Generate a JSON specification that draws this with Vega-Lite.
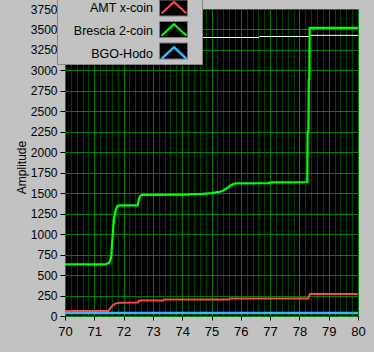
{
  "$schema": "https://vega.github.io/schema/vega-lite/v6.json",
  "width": 293,
  "height": 307,
  "autosize": {"type": "none"},
  "padding": {"left": 65, "top": 9, "right": 16, "bottom": 36},
  "background": "#c2c2c2",
  "config": {
    "view": {"fill": "#000000", "stroke": null},
    "font": "Liberation Sans"
  },
  "datasets": {
    "curves": [
      {"series": "AMT x-coin", "time": 70, "amplitude": 62},
      {"series": "AMT x-coin", "time": 71.48, "amplitude": 62},
      {"series": "AMT x-coin", "time": 71.55, "amplitude": 95},
      {"series": "AMT x-coin", "time": 71.62, "amplitude": 125},
      {"series": "AMT x-coin", "time": 71.7, "amplitude": 148},
      {"series": "AMT x-coin", "time": 71.85, "amplitude": 163},
      {"series": "AMT x-coin", "time": 72.5, "amplitude": 165},
      {"series": "AMT x-coin", "time": 72.53, "amplitude": 188},
      {"series": "AMT x-coin", "time": 73.35, "amplitude": 190},
      {"series": "AMT x-coin", "time": 73.38, "amplitude": 202},
      {"series": "AMT x-coin", "time": 75.6, "amplitude": 203},
      {"series": "AMT x-coin", "time": 75.62, "amplitude": 213},
      {"series": "AMT x-coin", "time": 78.3, "amplitude": 215},
      {"series": "AMT x-coin", "time": 78.36, "amplitude": 268},
      {"series": "AMT x-coin", "time": 80, "amplitude": 270},
      {"series": "Brescia 2-coin", "time": 70, "amplitude": 630},
      {"series": "Brescia 2-coin", "time": 71.39, "amplitude": 630},
      {"series": "Brescia 2-coin", "time": 71.5, "amplitude": 650},
      {"series": "Brescia 2-coin", "time": 71.55, "amplitude": 680},
      {"series": "Brescia 2-coin", "time": 71.58, "amplitude": 730},
      {"series": "Brescia 2-coin", "time": 71.61, "amplitude": 900},
      {"series": "Brescia 2-coin", "time": 71.64, "amplitude": 1050},
      {"series": "Brescia 2-coin", "time": 71.67, "amplitude": 1180},
      {"series": "Brescia 2-coin", "time": 71.72, "amplitude": 1280},
      {"series": "Brescia 2-coin", "time": 71.78, "amplitude": 1340},
      {"series": "Brescia 2-coin", "time": 71.85, "amplitude": 1350},
      {"series": "Brescia 2-coin", "time": 72.48, "amplitude": 1350},
      {"series": "Brescia 2-coin", "time": 72.52, "amplitude": 1420},
      {"series": "Brescia 2-coin", "time": 72.56, "amplitude": 1465},
      {"series": "Brescia 2-coin", "time": 72.65, "amplitude": 1480},
      {"series": "Brescia 2-coin", "time": 74.2, "amplitude": 1482},
      {"series": "Brescia 2-coin", "time": 74.25, "amplitude": 1490},
      {"series": "Brescia 2-coin", "time": 74.7, "amplitude": 1492},
      {"series": "Brescia 2-coin", "time": 75.0, "amplitude": 1500},
      {"series": "Brescia 2-coin", "time": 75.27, "amplitude": 1515},
      {"series": "Brescia 2-coin", "time": 75.39, "amplitude": 1530},
      {"series": "Brescia 2-coin", "time": 75.5, "amplitude": 1555},
      {"series": "Brescia 2-coin", "time": 75.6, "amplitude": 1580},
      {"series": "Brescia 2-coin", "time": 75.67, "amplitude": 1600},
      {"series": "Brescia 2-coin", "time": 75.8, "amplitude": 1620},
      {"series": "Brescia 2-coin", "time": 76.96, "amplitude": 1622},
      {"series": "Brescia 2-coin", "time": 77.0, "amplitude": 1633},
      {"series": "Brescia 2-coin", "time": 78.27, "amplitude": 1635},
      {"series": "Brescia 2-coin", "time": 78.28, "amplitude": 2250},
      {"series": "Brescia 2-coin", "time": 78.31, "amplitude": 2260},
      {"series": "Brescia 2-coin", "time": 78.32, "amplitude": 2890},
      {"series": "Brescia 2-coin", "time": 78.34, "amplitude": 2895},
      {"series": "Brescia 2-coin", "time": 78.35, "amplitude": 3520},
      {"series": "Brescia 2-coin", "time": 80, "amplitude": 3520},
      {"series": "BGO-Hodo", "time": 70, "amplitude": 37},
      {"series": "BGO-Hodo", "time": 80, "amplitude": 37}
    ],
    "white": [
      {"time": 70, "amplitude": 3402},
      {"time": 76.62, "amplitude": 3402},
      {"time": 76.64, "amplitude": 3414},
      {"time": 78.32, "amplitude": 3414},
      {"time": 78.34, "amplitude": 3428},
      {"time": 80, "amplitude": 3428}
    ]
  },
  "encoding": {
    "x": {
      "field": "time", "type": "quantitative",
      "scale": {"domain": [70, 80], "nice": false, "zero": false},
      "axis": {
        "values": [70,70.2,70.4,70.6,70.8,71,71.2,71.4,71.6,71.8,72,72.2,72.4,72.6,72.8,73,73.2,73.4,73.6,73.8,74,74.2,74.4,74.6,74.8,75,75.2,75.4,75.6,75.8,76,76.2,76.4,76.6,76.8,77,77.2,77.4,77.6,77.8,78,78.2,78.4,78.6,78.8,79,79.2,79.4,79.6,79.8,80],
        "title": null,
        "domain": false,
        "grid": true,
        "gridColor": {"condition": {"test": "abs(datum.value - round(datum.value)) < 0.01", "value": "#008000"}, "value": "#004000"},
        "gridOpacity": 1,
        "gridWidth": 1,
        "ticks": true,
        "tickSize": 4,
        "tickColor": "#000000",
        "tickOpacity": {"condition": {"test": "abs(datum.value - round(datum.value)) < 0.01", "value": 1}, "value": 0},
        "labelExpr": "abs(datum.value - round(datum.value)) < 0.01 ? format(datum.value, '.0f') : ''",
        "labelFontSize": 13,
        "labelColor": "#000000",
        "labelPadding": 5,
        "labelFlush": false,
        "labelOverlap": false
      }
    },
    "y": {
      "field": "amplitude", "type": "quantitative",
      "scale": {"domain": [0, 3750], "nice": false},
      "axis": {
        "values": [0,250,500,750,1000,1250,1500,1750,2000,2250,2500,2750,3000,3250,3500,3750],
        "format": "d",
        "title": "Amplitude",
        "domain": false,
        "grid": true,
        "gridColor": "#008000",
        "gridOpacity": 1,
        "tickSize": 5,
        "tickColor": "#000000",
        "labelFontSize": 12,
        "labelColor": "#000000",
        "labelPadding": 3,
        "labelFlush": false,
        "labelOverlap": false,
        "titleFontSize": 12,
        "titleFontWeight": "normal",
        "titleColor": "#000000",
        "titleAngle": -90,
        "titleX": -40,
        "titleY": 158,
        "titleAlign": "center",
        "titleBaseline": "alphabetic"
      }
    }
  },
  "layer": [
    {
      "data": {"name": "white"},
      "mark": {"type": "line", "color": "#ffffff", "strokeWidth": 1}
    },
    {
      "data": {"name": "curves"},
      "mark": {"type": "line"},
      "encoding": {
        "stroke": {
          "field": "series", "type": "nominal",
          "scale": {"domain": ["AMT x-coin", "Brescia 2-coin", "BGO-Hodo"], "range": ["#ff4646", "#00ff00", "#35b8ff"]},
          "legend": {
            "orient": "top-left",
            "offset": -7,
            "title": null,
            "padding": 0,
            "symbolType": "M-2.5,1.06L0,-1.26L2.5,1.06",
            "symbolSize": 100,
            "symbolFillColor": "transparent",
            "symbolOpacity": 1,
            "symbolOffset": 109.5,
            "labelAlign": "right",
            "labelOffset": -27.5,
            "labelFontSize": 12.5,
            "labelColor": "#000000",
            "labelLimit": 200,
            "rowPadding": 1,
            "zindex": 2
          }
        },
        "strokeWidth": {
          "field": "series", "type": "ordinal",
          "scale": {"domain": ["AMT x-coin", "Brescia 2-coin", "BGO-Hodo"], "range": [2, 2.5, 4]}
        },
        "order": {"field": "time", "type": "quantitative"}
      }
    },
    {
      "data": {"name": "curves"},
      "mark": {"type": "square", "opacity": 0, "filled": true},
      "encoding": {
        "fill": {
          "field": "series", "type": "nominal",
          "scale": {"domain": ["BGO-Hodo", "Brescia 2-coin", "AMT x-coin"], "range": ["#000000", "#000000", "#000000"]},
          "legend": {
            "orient": "none",
            "legendX": -8,
            "legendY": -10,
            "title": null,
            "padding": 3,
            "fillColor": "#c2c2c2",
            "strokeColor": "#858585",
            "symbolType": "M-2.8,-1.6H2.8V1.6H-2.8Z M4.7,0",
            "symbolSize": 100,
            "symbolStrokeWidth": 1,
            "symbolStrokeColor": "#7a7a7a",
            "symbolOpacity": 1,
            "symbolOffset": 107.5,
            "labelExpr": "''",
            "labelFontSize": 12,
            "labelOffset": 0,
            "rowPadding": 1.5,
            "zindex": 1
          }
        }
      }
    }
  ]
}
